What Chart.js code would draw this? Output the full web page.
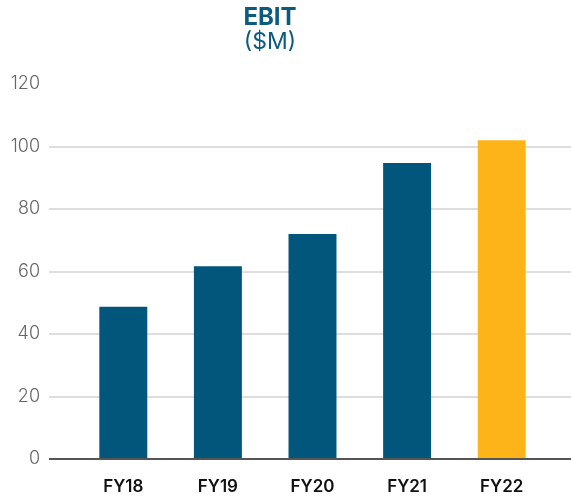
<!DOCTYPE html>
<html>
<head>
<meta charset="utf-8">
<script src="https://cdn.jsdelivr.net/npm/chart.js@4"></script>
<style>
  html, body { margin: 0; padding: 0; background: #fff; }
  #wrap { position: relative; width: 571px; height: 497px; }
  #title {
    position: absolute; left: 0; top: 5px; width: 540px;
    text-align: center; color: #0d5a7f; font-family: Inter, sans-serif;
  }
  #title .main { font-size: 24px; line-height: 24px; font-weight: 700; }
  #title .sub { font-size: 23px; line-height: 24px; font-weight: 400; }
</style>
</head>
<body>
<div id="wrap">
  <canvas id="ebit" width="571" height="497"></canvas>
  <div id="title"><div class="main">EBIT</div><div class="sub">($M)</div></div>
</div>
<script>
/* ── DATA ─────────────────────────────────────────────── */
const years = ['FY18', 'FY19', 'FY20', 'FY21', 'FY22'];
const ebit = [48.7, 61.7, 72, 94.7, 102];
const barColors = ['#02567b', '#02567b', '#02567b', '#02567b', '#fdb419'];
const yMin = 0, yMax = 120, yStep = 20;

/* grid colour: dark base line, no line at the top tick */
function gridColor(ctx) {
  const v = ctx.tick ? ctx.tick.value : null;
  if (v === yMin) return '#555555';
  if (v === yMax) return 'rgba(0,0,0,0)';
  return '#dedede';
}

new Chart(document.getElementById('ebit'), {
  type: 'bar',
  data: {
    labels: years,
    datasets: [{
      label: 'EBIT',
      data: ebit,
      backgroundColor: barColors,
      borderWidth: 0,
      categoryPercentage: 1,
      barPercentage: 0.507
    }]
  },
  options: {
    responsive: false,
    animation: false,
    layout: { padding: { top: 84, left: 0, right: 0, bottom: 0 } },
    plugins: {
      legend: { display: false },
      tooltip: { enabled: false }
    },
    scales: {
      x: {
        grid: { display: false },
        border: { display: false },
        ticks: {
          color: '#111111',
          padding: 10,
          font: { family: 'Inter', size: 17, weight: '600' }
        },
        afterFit: s => { s.height = 38; }
      },
      y: {
        min: yMin, max: yMax,
        border: { display: false },
        grid: { color: gridColor, tickColor: gridColor, lineWidth: 2, tickLength: 27 },
        ticks: {
          stepSize: yStep,
          color: '#666666',
          padding: 9,
          font: { family: 'Inter', size: 18, weight: '300' }
        },
        afterFit: s => { s.width = 76; }
      },
      yRight: {
        position: 'right',
        min: yMin, max: yMax,
        border: { display: false },
        grid: { drawOnChartArea: false, tickColor: gridColor, lineWidth: 2, tickLength: 22 },
        ticks: { stepSize: yStep, display: false },
        afterFit: s => { s.width = 22; }
      }
    }
  }
});
</script>
</body>
</html>
